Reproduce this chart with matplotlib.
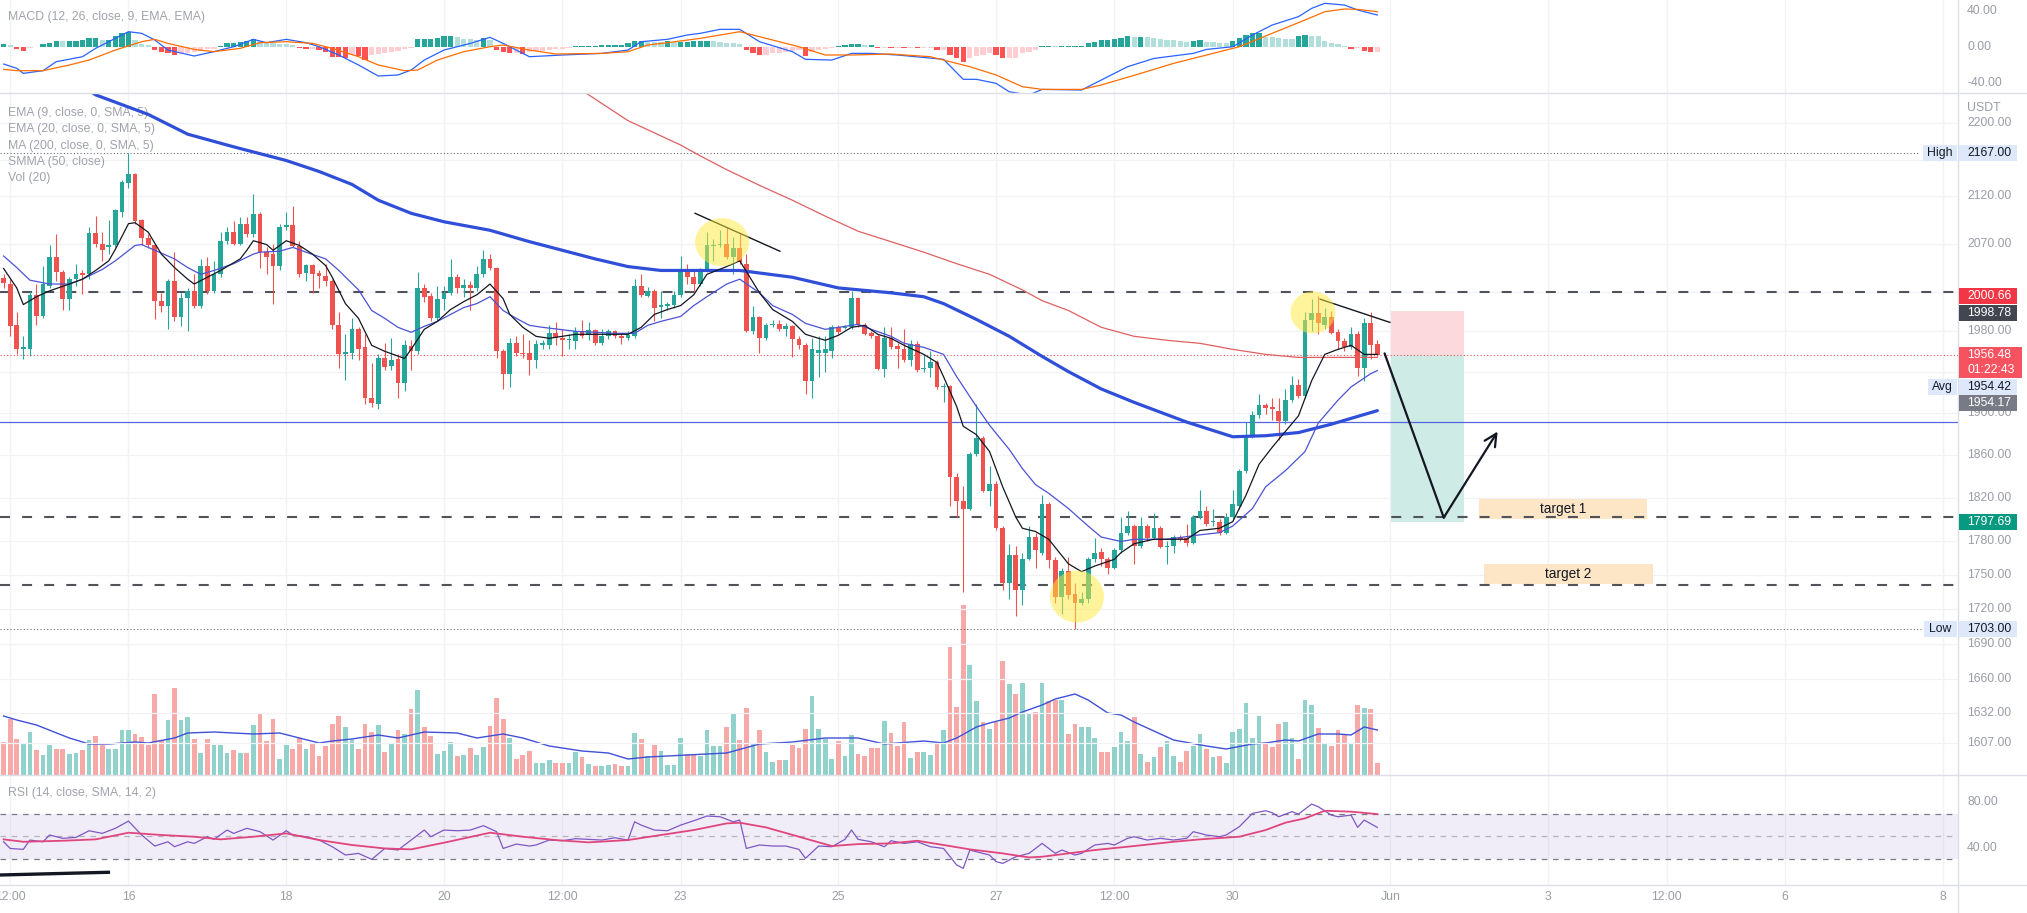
import numpy as np
import matplotlib
matplotlib.use("Agg")
import matplotlib.pyplot as plt
from matplotlib.patches import Rectangle, Ellipse
from matplotlib.lines import Line2D
from matplotlib.transforms import IdentityTransform, ScaledTranslation
from matplotlib.ticker import NullLocator

plt.rcParams['font.family'] = ['Liberation Sans', 'DejaVu Sans']

# ---------------- data (2h candles, ETH/USDT, May 14 10:00 -> May 31 20:00) ----------------
opens = [2034, 2028, 1986, 1962, 1962, 2017, 1995, 2026, 2056, 2040,
         2013, 2033, 2039, 2038, 2081, 2070, 2066, 2068, 2103, 2135,
         2144, 2095, 2076, 2068, 2011, 2006, 2031, 1994, 2014, 2021,
         2006, 2047, 2021, 2038, 2073, 2082, 2070, 2091, 2080, 2101,
         2061, 2059, 2047, 2087, 2090, 2067, 2039, 2048, 2039, 2036,
         2031, 1986, 1957, 1958, 1982, 1964, 1914, 1908, 1953, 1946,
         1952, 1929, 1965, 1960, 2024, 2016, 1993, 2013, 2019, 2035,
         2024, 2027, 2024, 2038, 2054, 2045, 1960, 1938, 1968, 1958,
         1958, 1951, 1966, 1966, 1978, 1973, 1971, 1970, 1980, 1976,
         1981, 1968, 1975, 1980, 1975, 1973, 1975, 2026, 2016, 2021,
         2005, 2006, 2007, 2017, 2042, 2035, 2028, 2042, 2067, 2068,
         2070, 2056, 2065, 2049, 1980, 1994, 1973, 1986, 1987, 1982,
         1985, 1972, 1966, 1931, 1958, 1958, 1960, 1984, 1983, 1984,
         2014, 1986, 1978, 1975, 1943, 1973, 1965, 1962, 1951, 1967,
         1943, 1944, 1949, 1925, 1926, 1839, 1817, 1810, 1861, 1876,
         1826, 1833, 1792, 1743, 1768, 1737, 1764, 1784, 1770, 1814,
         1763, 1731, 1754, 1733, 1725, 1729, 1764, 1771, 1764, 1756,
         1772, 1788, 1794, 1776, 1794, 1783, 1792, 1775, 1776, 1784,
         1783, 1779, 1802, 1808, 1798, 1798, 1788, 1802, 1812, 1845,
         1878, 1898, 1907, 1906, 1902, 1892, 1912, 1927, 1916, 1991,
         1998, 1986, 1994, 1979, 1970, 1964, 1977, 1944, 1988, 1967]
highs = [2038, 2033, 1999, 1975, 2021, 2028, 2047, 2068, 2080, 2042,
         2035, 2049, 2042, 2087, 2099, 2082, 2095, 2107, 2138, 2167,
         2145, 2096, 2080, 2070, 2019, 2033, 2061, 2019, 2024, 2038,
         2054, 2056, 2052, 2082, 2087, 2094, 2098, 2098, 2123, 2103,
         2066, 2070, 2091, 2103, 2110, 2073, 2049, 2049, 2042, 2049,
         2033, 1999, 1977, 1993, 1984, 1977, 1948, 1957, 1968, 1973,
         1957, 1971, 1971, 2040, 2028, 2019, 2026, 2026, 2054, 2038,
         2033, 2031, 2047, 2063, 2059, 2046, 1962, 1973, 1975, 1977,
         1971, 1971, 1971, 1986, 1989, 1982, 1977, 1984, 1991, 1989,
         1982, 1982, 1982, 1981, 1977, 1980, 2033, 2038, 2025, 2023,
         2021, 2010, 2021, 2057, 2049, 2042, 2045, 2082, 2075, 2084,
         2087, 2077, 2080, 2059, 2006, 1995, 1988, 1991, 1991, 1988,
         1986, 1975, 1968, 1973, 1975, 1975, 1986, 1986, 1986, 2021,
         2015, 1988, 1980, 1977, 1984, 1984, 1968, 1982, 1971, 1970,
         1957, 1960, 1951, 1929, 1927, 1843, 1831, 1863, 1908, 1878,
         1849, 1835, 1794, 1778, 1776, 1770, 1794, 1788, 1822, 1816,
         1766, 1756, 1766, 1743, 1735, 1766, 1783, 1774, 1766, 1774,
         1802, 1808, 1796, 1802, 1796, 1806, 1794, 1780, 1786, 1786,
         1796, 1804, 1827, 1812, 1810, 1800, 1806, 1827, 1847, 1891,
         1902, 1918, 1909, 1914, 1914, 1923, 1936, 1933, 1999, 2013,
         2016, 2004, 2000, 1982, 1973, 1984, 1980, 1993, 1999, 1971]
lows = [2024, 1975, 1957, 1952, 1955, 1986, 1993, 2024, 2031, 2002,
        2002, 2026, 2018, 2033, 2066, 2052, 2059, 2066, 2098, 2129,
        2091, 2068, 2065, 1992, 1999, 1982, 1990, 1985, 1980, 2004,
        2004, 2018, 2019, 2035, 2070, 2068, 2068, 2077, 2077, 2045,
        2038, 2008, 2042, 2084, 2066, 2035, 2031, 2019, 2024, 2026,
        1982, 1944, 1932, 1952, 1951, 1908, 1906, 1904, 1942, 1942,
        1914, 1921, 1942, 1957, 2010, 1990, 1990, 2002, 2017, 2019,
        2015, 2002, 2021, 2035, 2042, 1953, 1923, 1925, 1955, 1953,
        1937, 1944, 1962, 1962, 1966, 1955, 1962, 1962, 1973, 1971,
        1966, 1966, 1972, 1973, 1967, 1971, 1973, 2015, 2015, 1990,
        1993, 2002, 2004, 2015, 2028, 2021, 2026, 2040, 2052, 2066,
        2054, 2038, 2049, 1979, 1977, 1958, 1971, 1984, 1980, 1975,
        1954, 1962, 1918, 1914, 1935, 1940, 1953, 1977, 1982, 1982,
        1984, 1976, 1973, 1942, 1935, 1962, 1944, 1949, 1946, 1940,
        1940, 1935, 1923, 1910, 1812, 1802, 1735, 1809, 1859, 1825,
        1812, 1790, 1737, 1729, 1714, 1724, 1763, 1756, 1768, 1756,
        1725, 1716, 1729, 1703, 1724, 1725, 1762, 1758, 1751, 1755,
        1770, 1786, 1760, 1774, 1780, 1782, 1774, 1760, 1770, 1780,
        1776, 1778, 1800, 1794, 1794, 1786, 1787, 1800, 1810, 1843,
        1876, 1895, 1899, 1893, 1874, 1889, 1910, 1914, 1914, 1980,
        1977, 1982, 1977, 1962, 1960, 1962, 1936, 1931, 1952, 1955]
closes = [2029, 1985, 1962, 1964, 2017, 1995, 2028, 2056, 2040, 2013,
          2033, 2038, 2037, 2081, 2070, 2063, 2068, 2105, 2136, 2144,
          2094, 2076, 2068, 2011, 2006, 2031, 1994, 2014, 2021, 2006,
          2047, 2021, 2038, 2073, 2082, 2070, 2091, 2080, 2101, 2061,
          2056, 2047, 2087, 2090, 2067, 2038, 2048, 2038, 2036, 2031,
          1986, 1957, 1959, 1982, 1962, 1914, 1909, 1953, 1945, 1951,
          1929, 1966, 1960, 2024, 2015, 1993, 2013, 2019, 2035, 2024,
          2027, 2024, 2038, 2054, 2045, 1960, 1938, 1968, 1958, 1957,
          1951, 1967, 1968, 1978, 1973, 1971, 1972, 1980, 1975, 1981,
          1968, 1975, 1980, 1975, 1973, 1976, 2026, 2017, 2021, 2004,
          2007, 2008, 2017, 2042, 2035, 2028, 2042, 2068, 2069, 2070,
          2056, 2065, 2051, 1980, 1994, 1973, 1986, 1987, 1982, 1985,
          1972, 1966, 1931, 1962, 1961, 1962, 1984, 1979, 1984, 2014,
          1986, 1977, 1975, 1943, 1973, 1964, 1962, 1951, 1967, 1942,
          1944, 1949, 1925, 1926, 1839, 1817, 1810, 1861, 1876, 1826,
          1833, 1792, 1743, 1768, 1737, 1764, 1784, 1772, 1814, 1763,
          1731, 1754, 1732, 1725, 1729, 1764, 1770, 1764, 1756, 1772,
          1788, 1794, 1776, 1794, 1783, 1792, 1775, 1776, 1784, 1782,
          1779, 1802, 1808, 1796, 1799, 1788, 1802, 1814, 1845, 1878,
          1898, 1907, 1905, 1904, 1892, 1912, 1927, 1916, 1991, 1998,
          1988, 1994, 1978, 1970, 1964, 1977, 1944, 1988, 1966, 1956.48]
volumes = [33, 56, 36, 32, 43, 25, 20, 30, 26, 26,
           21, 22, 25, 35, 39, 30, 26, 26, 45, 45,
           41, 38, 30, 81, 35, 55, 87, 55, 58, 36,
           22, 36, 30, 30, 22, 25, 22, 22, 50, 61,
           34, 56, 16, 30, 26, 37, 26, 32, 19, 29,
           51, 59, 48, 35, 26, 51, 43, 50, 23, 32,
           45, 41, 66, 85, 48, 39, 21, 24, 33, 19,
           20, 27, 20, 28, 49, 77, 56, 37, 16, 20,
           24, 12, 12, 15, 12, 12, 12, 23, 18, 11,
           9, 9, 10, 11, 9, 9, 42, 36, 19, 30,
           24, 10, 10, 37, 21, 20, 19, 45, 29, 29,
           48, 62, 35, 67, 31, 45, 23, 13, 15, 15,
           30, 27, 46, 79, 46, 36, 16, 34, 19, 40,
           21, 19, 27, 27, 54, 42, 29, 53, 17, 23,
           23, 20, 31, 45, 128, 68, 170, 110, 74, 53,
           46, 53, 114, 91, 81, 92, 62, 63, 92, 74,
           75, 75, 41, 51, 48, 48, 37, 23, 23, 28,
           43, 34, 58, 21, 13, 18, 28, 34, 19, 13,
           24, 29, 41, 26, 18, 19, 12, 43, 46, 72,
           37, 59, 33, 28, 51, 53, 37, 16, 75, 70,
           47, 32, 29, 45, 40, 32, 70, 67, 66, 12]
macd_hist = [3, 2, -3, -5, -1, -0.5, 2.6, 4.5, 6.3, 6,
             6.3, 6.3, 7, 10, 10, 8, 8, 11.9, 14.8, 16.7,
             8, 3, 1.5, -3.7, -5.5, -6.6, -9.3, -7.5, -6.5, -5.5,
             -4.5, -3, -2, 1, 3.7, 4.5, 5.6, 6.3, 8.2, 6.5,
             5, 4, 3, 2.5, 1.8, -1.8, -3, -3, -3.7, -5.5,
             -11, -11.5, -13, -9.3, -10.3, -14.8, -9.3, -8, -7, -6,
             -5, -3, -1, 8.2, 8.2, 8.2, 10, 11.9, 11.9, 10.5,
             9, 8.2, 8, 10, 7.5, -3.7, -5.5, -6.6, -6.6, -8,
             -6, -5, -4.5, -3.7, -3, -2.5, -1.8, 0.7, 0.7, 1,
             1, 1.5, 1.5, 1.8, 1.8, 4.5, 6.3, 6.3, 5.6, 5.5,
             5, 6.3, 5.6, 5.6, 5.6, 6.3, 6.3, 6.5, 6.3, 5.6,
             4.5, 3.7, 2.6, -3.7, -6.6, -9.3, -9.3, -7.4, -6.5, -5.5,
             -4.5, -3.7, -10.3, -5.5, -4, -3, -1.8, 0.5, 1.5, 2.6,
             2.6, 1.8, 1.8, -1.1, -1.1, -1.5, -1.5, -1.8, -1.1, -1.8,
             -1.8, -1.8, -3.7, -3.7, -9.3, -13, -16.7, -13, -10, -9.3,
             -7.4, -9.3, -13, -13, -13, -7.4, -5.5, -3.7, 0.7, 0.7,
             0.5, 0.7, 0.7, 0.7, 0.7, 3.7, 5.6, 7.5, 7.5, 8.6,
             10, 11.9, 11.1, 11.1, 10.4, 9.3, 8.6, 7.8, 7.5, 6.7,
             5.6, 6.7, 7.5, 5.6, 5.2, 4.5, 3.7, 6.7, 10, 13,
             14.8, 14.8, 11.1, 10.4, 9.6, 8.9, 8.2, 11.9, 13, 12.3,
             11.9, 6.7, 3.7, 2.6, 0.7, -3, -1.8, -4.5, -5.5, -5.5]

# indicator lines read at bar indices
ema9_idx = [0, 2, 3, 5, 7, 10, 12, 14, 16, 17, 19, 20, 22, 24, 26, 28, 29, 31, 33, 36, 37, 38, 40, 41, 43, 45,
            47, 49, 50, 52, 54, 56, 58, 61, 62, 64, 66, 68, 70, 72, 74, 76, 77, 79, 81, 83, 87, 91, 95, 97, 99,
            101, 103, 105, 107, 110, 112, 115, 117, 120, 122, 125, 127, 129, 131, 133, 135, 137, 140, 142, 143,
            145, 146, 148, 150, 152, 154, 155, 157, 159, 162, 164, 166, 169, 170, 172, 175, 177, 180, 182, 185,
            187, 189, 191, 193, 195, 197, 199, 201, 203, 205, 207, 209]
ema9_val = [2044, 2024, 2007, 2015, 2021, 2028, 2033, 2042, 2052, 2064, 2091, 2092, 2082, 2059, 2045, 2033, 2028,
            2035, 2042, 2054, 2063, 2073, 2069, 2063, 2073, 2068, 2059, 2047, 2035, 2008, 1993, 1966, 1960, 1953,
            1962, 1982, 1990, 2002, 2010, 2017, 2028, 2013, 1997, 1984, 1975, 1973, 1977, 1977, 1977, 1984, 1997,
            2002, 2006, 2017, 2038, 2046, 2052, 2019, 2002, 1990, 1977, 1971, 1976, 1984, 1986, 1977, 1973, 1966,
            1957, 1949, 1935, 1906, 1887, 1879, 1863, 1830, 1802, 1792, 1789, 1782, 1760, 1753, 1758, 1764, 1770,
            1778, 1782, 1782, 1782, 1790, 1792, 1798, 1822, 1851, 1867, 1882, 1897, 1931, 1957, 1962, 1966, 1957,
            1957]
ema20_idx = [0, 2, 4, 7, 10, 12, 15, 17, 20, 21, 23, 26, 28, 30, 32, 35, 38, 39, 42, 44, 46, 49, 51, 54, 56, 58,
             60, 62, 64, 66, 68, 70, 72, 74, 76, 78, 80, 82, 87, 93, 96, 98, 100, 103, 105, 107, 110, 112, 115,
             117, 120, 122, 125, 127, 130, 132, 135, 137, 140, 143, 145, 148, 150, 153, 155, 157, 159, 162, 165,
             167, 170, 172, 177, 182, 185, 187, 190, 192, 195, 198, 200, 203, 205, 208, 209]
ema20_val = [2057, 2045, 2032, 2028, 2028, 2033, 2043, 2052, 2068, 2069, 2063, 2054, 2045, 2038, 2042, 2049, 2059,
             2061, 2062, 2066, 2061, 2054, 2042, 2022, 2001, 1993, 1984, 1979, 1985, 1990, 1997, 2004, 2008, 2015,
             2001, 1993, 1986, 1984, 1980, 1978, 1978, 1986, 1990, 1995, 2006, 2015, 2028, 2033, 2019, 2006, 1997,
             1988, 1982, 1984, 1987, 1982, 1975, 1968, 1964, 1957, 1935, 1906, 1888, 1865, 1847, 1832, 1824, 1810,
             1794, 1784, 1780, 1782, 1782, 1786, 1788, 1794, 1810, 1830, 1845, 1863, 1890, 1912, 1925, 1938, 1941]
smma_idx = [8, 14, 22, 28, 35, 43, 48, 53, 57, 62, 67, 74, 80, 85, 90, 95, 100, 106, 112, 120, 127, 135, 140,
            143, 148, 153, 158, 162, 167, 172, 180, 187, 192, 197, 202, 209]
smma_val = [2262, 2232, 2210, 2188, 2174, 2159, 2147, 2133, 2116, 2102, 2093, 2084, 2072, 2063, 2054, 2046, 2042,
            2042, 2042, 2035, 2024, 2019, 2015, 2008, 1992, 1975, 1955, 1940, 1923, 1910, 1891, 1877, 1878, 1881,
            1889, 1902]
ma200_idx = [86, 88, 95, 103, 106, 110, 115, 120, 125, 130, 135, 140, 145, 150, 155, 158, 162, 167, 172, 177,
             182, 187, 192, 197, 209]
ma200_val = [2250, 2237, 2203, 2176, 2164, 2149, 2132, 2116, 2099, 2083, 2072, 2061, 2049, 2038, 2022, 2011, 2001,
             1984, 1975, 1971, 1968, 1962, 1957, 1954, 1954]
volma_idx = [0, 2, 5, 10, 13, 16, 20, 22, 26, 28, 32, 38, 42, 45, 48, 50, 53, 57, 60, 64, 69, 72, 76, 79, 83, 88,
             92, 95, 98, 104, 110, 115, 120, 125, 130, 134, 140, 143, 145, 148, 150, 153, 155, 158, 160, 163, 165,
             168, 170, 172, 175, 178, 183, 186, 190, 192, 195, 197, 200, 203, 205, 207, 209]
volma_val = [59, 55, 50, 37, 31, 31, 33, 32, 37, 42, 43, 41, 42, 37, 32, 34, 36, 40, 37, 43, 42, 37, 41, 37, 29, 24,
             22, 16, 18, 20, 22, 31, 33, 37, 37, 31, 34, 32, 37, 48, 52, 57, 63, 70, 76, 81, 75, 62, 60, 53, 44, 35,
             29, 26, 31, 32, 35, 34, 41, 41, 40, 48, 45]
macd_idx = [0, 2, 3, 6, 8, 12, 14, 17, 19, 21, 23, 25, 29, 32, 35, 38, 40, 43, 46, 48, 51, 54, 57, 60, 62, 64, 67,
            71, 74, 76, 80, 85, 91, 95, 97, 101, 104, 106, 109, 112, 115, 120, 122, 126, 129, 132, 136, 143, 146,
            148, 151, 153, 156, 158, 164, 167, 171, 175, 181, 183, 187, 190, 193, 197, 199, 201, 204, 206, 209]
macd_val = [-19.2, -24.0, -29.6, -26.6, -16.6, -11.1, -1.8, 9.3, 16.7, 14.9, 7.5, -3.7, -10.3, -5.5, 0, 8.2, 4.5,
            8.2, 4.5, 0, -9.2, -20.3, -32.5, -31.4, -25.9, -14.8, -3.7, 3.7, 10.4, 3.7, -11.1, -9.2, -7.4, -3.7, 5.6,
            8.2, 13.0, 14.9, 19.3, 19.3, 5.6, -5.5, -14.0, -14.8, -7.4, -7.4, -9.2, -14.0, -36.2, -36.2, -40.7, -50,
            -53.7, -47.4, -48.1, -37.0, -22.2, -13.0, -7.4, -3.0, 0, 13.0, 24.1, 33.4, 42.6, 48.2, 46.3, 40.8, 35.2]
signal_idx = [0, 2, 6, 10, 13, 17, 21, 23, 25, 29, 32, 36, 39, 43, 47, 50, 54, 57, 61, 63, 66, 70, 74, 76, 80, 84,
              91, 95, 98, 101, 106, 112, 116, 121, 125, 129, 135, 141, 147, 151, 155, 158, 164, 167, 173, 178, 184,
              188, 193, 198, 201, 204, 206, 209]
signal_val = [-25.1, -26.6, -26.6, -20.3, -14.8, -3.7, 5.6, 8.2, 3.7, -3.0, -5.5, -1.8, 4.5, 5.6, 3.7, -1.8, -11.1,
              -20.3, -26.6, -25.9, -14.8, -5.5, 0, 1.9, -3.7, -8.1, -7.4, -5.5, 1.9, 4.5, 9.3, 16.7, 9.3, 0, -9.2,
              -9.2, -8.1, -11.1, -22.2, -31.4, -44.4, -47.4, -47.4, -42.5, -29.6, -18.5, -7.4, 0, 14.9, 29.7, 38.9,
              41.9, 41.5, 38.9]
rsi_idx = [0, 1, 3, 4, 6, 7, 9, 11, 13, 15, 17, 19, 21, 23, 25, 26, 28, 29, 31, 32, 34, 35, 37, 39, 41, 43, 44, 46,
           48, 50, 52, 54, 56, 58, 60, 62, 64, 65, 67, 69, 71, 73, 75, 76, 78, 80, 81, 83, 85, 87, 89, 91, 93, 95,
           96, 97, 99, 101, 103, 105, 107, 109, 111, 112, 113, 115, 117, 119, 121, 122, 124, 126, 128, 129, 130,
           132, 134, 135, 137, 139, 141, 143, 145, 146, 147, 149, 150, 151, 152, 154, 156, 157, 158, 160, 161, 163,
           164, 166, 168, 169, 171, 172, 174, 176, 178, 180, 181, 183, 185, 186, 188, 190, 192, 193, 194, 196, 197,
           199, 200, 202, 203, 205, 206, 207, 209]
rsi_val = [45.4, 39.6, 38.8, 46.9, 45.4, 51.3, 48.4, 49.2, 55.0, 52.7, 57.1, 63.4, 51.3, 41.7, 45.4, 41.1, 45.4, 44.0,
           49.8, 47.5, 55.6, 52.7, 57.1, 54.2, 46.9, 55.0, 51.3, 49.8, 46.9, 41.1, 33.9, 35.3, 30.1, 39.6, 38.2,
           46.9, 55.6, 49.8, 55.6, 55.0, 55.6, 59.4, 54.2, 39.6, 43.4, 41.7, 42.6, 46.9, 46.3, 48.1, 47.5, 46.9,
           48.9, 46.9, 62.8, 59.9, 55.6, 55.0, 59.9, 63.7, 67.8, 67.2, 62.8, 64.3, 39.6, 42.6, 41.7, 41.7, 38.8,
           31.0, 41.7, 41.1, 47.5, 55.6, 47.5, 45.4, 41.1, 46.3, 44.0, 45.4, 41.1, 39.6, 25.2, 22.3, 38.2, 35.3,
           33.9, 28.1, 26.6, 32.4, 35.3, 39.6, 44.0, 35.3, 38.2, 33.9, 35.3, 42.6, 44.0, 42.6, 48.4, 49.8, 46.9,
           48.4, 46.9, 48.4, 54.2, 51.3, 49.8, 51.3, 58.5, 70.1, 72.4, 70.7, 67.2, 71.6, 69.5, 78.2, 75.9, 68.6,
           67.2, 68.6, 57.9, 64.3, 57.9]
rsima_idx = [0, 3, 9, 14, 19, 24, 29, 33, 38, 43, 48, 53, 58, 62, 67, 74, 79, 84, 89, 95, 100, 105, 110, 112, 116,
             121, 126, 130, 135, 139, 143, 147, 152, 156, 158, 162, 166, 172, 178, 182, 188, 192, 195, 198, 201,
             205, 209]
rsima_val = [47.5, 45.4, 46.3, 47.5, 53.3, 51.3, 49.8, 47.5, 49.8, 52.7, 46.9, 42.6, 39.6, 38.8, 44.6, 53.3, 49.8,
             46.9, 44.9, 46.9, 51.3, 55.6, 61.4, 62.0, 57.9, 49.8, 41.7, 43.4, 44.0, 46.3, 42.6, 38.8, 35.3, 31.8,
             32.4, 35.3, 38.2, 41.7, 45.4, 47.5, 49.8, 55.6, 62.0, 65.8, 72.4, 71.6, 69.5]

# drawings (bar index, price)
dashed_levels = [2019.6, 1801.9, 1741.5]
high_price, low_price = 2167.0, 1703.0
hline_blue = 1891.0
entry, stop, target = 1956.48, 2000.66, 1797.69
position_x = [211.1, 222.2]
trend1_x, trend1_y = [105.2, 118.1], [2102, 2062]
trend2_x, trend2_y = [200.3, 210.9], [2012.5, 1989]
zig_x, zig_y = [210.1, 219.1, 227.3], [1958, 1801.7, 1882]
target_boxes = [("target 1", 224.4, 250.1, 1800, 1819), ("target 2", 225.2, 251.0, 1742, 1760)]
circles = [(109.3, 2071.5, 54, 48), (163.3, 1731, 54, 52), (199.2, 1999, 45, 42)]
rsi_trend_x, rsi_trend_y = [-0.55, 16.2], [16.5, 18.9]

tick_idx = [1, 19, 43, 67, 85, 103, 127, 151, 169, 187, 211, 235, 253, 271, 295]
tick_lab = ['12:00', '16', '18', '20', '12:00', '23', '25', '27', '12:00', '30', 'Jun', '3', '12:00', '6', '8']
price_ticks = [2200, 2120, 2070, 1980, 1900, 1860, 1820, 1780, 1750, 1720, 1690, 1660, 1632, 1607]
grid_prices = [2200, 2160, 2120, 2070, 2020, 1980, 1940, 1900, 1860, 1820, 1780, 1750, 1720, 1690, 1660, 1632, 1607]

# ---------------- figure ----------------
W, H = 2027, 913
fig = plt.figure(figsize=(W / 100, H / 100), dpi=100)
fig.patch.set_facecolor('white')
PR = 1958


def box(x0, y0, x1, y1):
    return [x0 / W, 1 - y1 / H, (x1 - x0) / W, (y1 - y0) / H]


X0, X1 = -0.548, 297.34
ax_macd = fig.add_axes(box(0, 0, PR, 93))
ax_vol = fig.add_axes(box(0, 93, PR, 775))
ax = fig.add_axes(box(0, 93, PR, 775))
ax_rsi = fig.add_axes(box(0, 775, PR, 885))
for a in (ax_macd, ax_vol, ax, ax_rsi):
    a.set_xlim(X0, X1)
    for s in a.spines.values():
        s.set_visible(False)
    a.set_xticks([])
    a.set_yticks([])
ax.patch.set_alpha(0)
ax.set_yscale('log')
ax.set_ylim(1581.4, 2234.1)
ax.yaxis.set_major_locator(NullLocator())
ax.yaxis.set_minor_locator(NullLocator())
ax_vol.set_ylim(0, 682)
ax_macd.set_ylim(-51.4, 51.9)
ax_rsi.set_ylim(7.8, 103.5)

GRID = '#f1f2f6'
for a in (ax_macd, ax_vol, ax_rsi):
    for t in tick_idx:
        a.axvline(t, color=GRID, lw=1, zorder=0)
for p in grid_prices:
    ax.axhline(p, color=GRID, lw=0.9, zorder=0)

n = min(len(opens), len(highs), len(lows), len(closes), len(volumes), len(macd_hist))
idx = np.arange(n)
o = np.array(opens[:n], float)
hh = np.array(highs[:n], float)
ll = np.array(lows[:n], float)
c = np.array(closes[:n], float)
up = c >= o
UP, DN = '#26a69a', '#ef5350'
cols = np.where(up, UP, DN)

# volume
vcols = np.where(up, '#92d2cc', '#f7a9a7')
ax_vol.bar(idx, volumes[:n], width=0.72, color=vcols, lw=0, zorder=2)
ax_vol.plot(volma_idx, volma_val, color='#3f4fd8', lw=1.0, zorder=3)

# candles
ax.vlines(idx, ll, hh, colors=cols, lw=0.8, zorder=3)
bot = np.minimum(o, c)
hgt = np.maximum(np.abs(c - o), 0.7)
ax.bar(idx, hgt, bottom=bot, width=0.72, color=cols, lw=0, zorder=4)

# moving averages
ax.plot(smma_idx, smma_val, color='#2f4fd9', lw=2.3, zorder=5, solid_capstyle='round')
ax.plot(ma200_idx, ma200_val, color='#e06060', lw=0.9, zorder=5)
ax.plot(ema20_idx, ema20_val, color='#4b52d6', lw=0.9, zorder=5)
ax.plot(ema9_idx, ema9_val, color='#131722', lw=0.9, zorder=5)

# levels
for lv in dashed_levels:
    ax.axhline(lv, color='#505359', lw=1.5, dashes=(4.8, 5.8), zorder=2)
ax.axhline(hline_blue, color='#5566dd', lw=0.9, zorder=2)
ax.hlines(high_price, X0, 291.5, color='#6a6d78', lw=0.8, linestyles=(0, (1, 2)), zorder=2)
ax.hlines(low_price, X0, 291.9, color='#6a6d78', lw=0.8, linestyles=(0, (1, 2)), zorder=2)
ax.axhline(entry, color='#ef5350', lw=0.8, ls=(0, (1, 2)), zorder=2)

# position tool
ax.fill_between(position_x, entry, stop, color='#fcd9dc', lw=0, zorder=1)
ax.fill_between(position_x, target, entry, color='#cfebe6', lw=0, zorder=1)

# target boxes
for lab, xa, xb, ya, yb in target_boxes:
    ax.fill_between([xa, xb], ya, yb, color='#fde6c6', lw=0, zorder=1)
    ax.text((xa + xb) / 2, np.sqrt(ya * yb), lab, ha='center', va='center', fontsize=9.8,
            color='#131722', zorder=6)

# trend lines and zigzag
ax.plot(trend1_x, trend1_y, color='#131722', lw=1.0, zorder=6)
ax.plot(trend2_x, trend2_y, color='#131722', lw=1.0, zorder=6)
ax.plot(zig_x[:2], zig_y[:2], color='#131722', lw=1.6, zorder=6, solid_capstyle='round')
ax.annotate('', xy=(zig_x[2], zig_y[2]), xytext=(zig_x[1], zig_y[1]),
            arrowprops=dict(arrowstyle='->', color='#131722', lw=1.6, shrinkA=0, shrinkB=0,
                            mutation_scale=22), zorder=6)

# highlight circles
for cx, cy, wpx, hpx in circles:
    tr = IdentityTransform() + ScaledTranslation(cx, cy, ax.transData)
    ax.add_patch(Ellipse((0, 0), wpx, hpx, transform=tr, facecolor='#ffeb3b', alpha=0.5,
                         edgecolor='none', zorder=7))

# MACD pane
hist = np.array(macd_hist[:n], float)
hcols = []
for k in range(n):
    prev = hist[k - 1] if k > 0 else hist[k]
    if hist[k] >= 0:
        hcols.append('#26a69a' if hist[k] >= prev else '#b2dfdb')
    else:
        hcols.append('#ffcdd2' if hist[k] >= prev else '#ff5252')
ax_macd.bar(idx, hist, width=0.8, color=hcols, lw=0, zorder=2)
ax_macd.plot(macd_idx, macd_val, color='#2962ff', lw=0.9, zorder=3)
ax_macd.plot(signal_idx, signal_val, color='#ff6d00', lw=0.9, zorder=3)

# RSI pane
ax_rsi.axhspan(30, 70, color='#7e57c2', alpha=0.1, lw=0, zorder=1)
for lvl, al in ((70, 1.0), (50, 0.5), (30, 1.0)):
    ax_rsi.axhline(lvl, color='#787b86', alpha=al, lw=0.9, dashes=(4.5, 4.5), zorder=2)
ax_rsi.plot(rsi_idx, rsi_val, color='#7e57c2', lw=0.9, zorder=3)
ax_rsi.plot(rsima_idx, rsima_val, color='#e0457b', lw=1.3, zorder=3)
ax_rsi.plot(rsi_trend_x, rsi_trend_y, color='#131722', lw=2.4, zorder=4, solid_capstyle='butt')

# legends (inside axes, beneath lines)
LEG = '#a0a3ab'
FS = 8.8
IT = IdentityTransform()
ax_macd.text(8, H - 17, 'MACD (12, 26, close, 9, EMA, EMA)', transform=IT, color=LEG, fontsize=FS,
             va='center', zorder=1)
for k, s in enumerate(['EMA (9, close, 0, SMA, 5)', 'EMA (20, close, 0, SMA, 5)', 'MA (200, close, 0, SMA, 5)',
                       'SMMA (50, close)', 'Vol (20)']):
    ax.text(8, H - (113 + 16.3 * k), s, transform=IT, color=LEG, fontsize=FS, va='center', zorder=1)
ax_rsi.text(8, H - 793, 'RSI (14, close, SMA, 14, 2)', transform=IT, color=LEG, fontsize=FS, va='center', zorder=1)

# separators
SEP = '#dcdfe6'
for yy in (93, 775, 885):
    fig.add_artist(Line2D([0, 1], [1 - yy / H] * 2, transform=fig.transFigure, color=SEP, lw=1))
fig.add_artist(Line2D([PR / W] * 2, [0, 1], transform=fig.transFigure, color=SEP, lw=1))

# time axis labels
TXT = '#9a9da6'
for t, lab in zip(tick_idx, tick_lab):
    xd = ax.transData.transform((t, 2000))[0]
    fig.text(xd, H - 897, lab, transform=IT, color=TXT, fontsize=FS, ha='center', va='center')

# right price scale
TX = 1967


def ydisp(a, v):
    return a.transData.transform((0, v))[1]


for p in price_ticks:
    fig.text(TX, ydisp(ax, p), f'{p:.2f}', transform=IT, color=TXT, fontsize=FS, va='center', zorder=3)
fig.text(TX, H - 108, 'USDT', transform=IT, color=TXT, fontsize=FS, va='center', zorder=3)
for v in (40, 0, -40):
    fig.text(TX, ydisp(ax_macd, v), f'{v:.2f}', transform=IT, color=TXT, fontsize=FS, va='center', zorder=3)
for v in (80, 40):
    fig.text(TX, ydisp(ax_rsi, v), f'{v:.2f}', transform=IT, color=TXT, fontsize=FS, va='center', zorder=3)


def rbox(yc, text, fc, tc, x0=1959, x1=2017, h=16, tx=TX, ha='left'):
    fig.add_artist(Rectangle((x0, yc - h / 2), x1 - x0, h, transform=IT, facecolor=fc, edgecolor='none',
                             zorder=10))
    fig.text(tx, yc, text, transform=IT, color=tc, fontsize=FS, va='center', ha=ha, zorder=11)


LB = '#dde9fa'
DK = '#131722'
yh = ydisp(ax, high_price)
rbox(yh, 'High', LB, DK, x0=1923, x1=1957, tx=1940, ha='center')
rbox(yh, f'{high_price:.2f}', LB, DK)
ylo = ydisp(ax, low_price)
rbox(ylo, 'Low', LB, DK, x0=1924, x1=1957, tx=1940.5, ha='center')
rbox(ylo, f'{low_price:.2f}', LB, DK)
rbox(H - 296, f'{stop:.2f}', '#f23645', 'white')
rbox(H - 313, '1998.78', '#434651', 'white')
ye = ydisp(ax, entry)
fig.add_artist(Rectangle((1959, H - 378), 63, 31, transform=IT, facecolor='#f7525f', edgecolor='none', zorder=10))
fig.text(TX, ye, f'{entry:.2f}', transform=IT, color='white', fontsize=FS, va='center', zorder=11)
fig.text(TX, ye - 15.5, '01:22:43', transform=IT, color='white', fontsize=FS, va='center', zorder=11)
rbox(H - 386.5, 'Avg', LB, DK, x0=1928, x1=1957, tx=1942.5, ha='center')
rbox(H - 386.5, '1954.42', LB, DK)
rbox(H - 403, '1954.17', '#787b86', 'white')
rbox(ydisp(ax, target), f'{target:.2f}', '#089981', 'white')

fig.savefig('out.png', dpi=100, facecolor='white')
